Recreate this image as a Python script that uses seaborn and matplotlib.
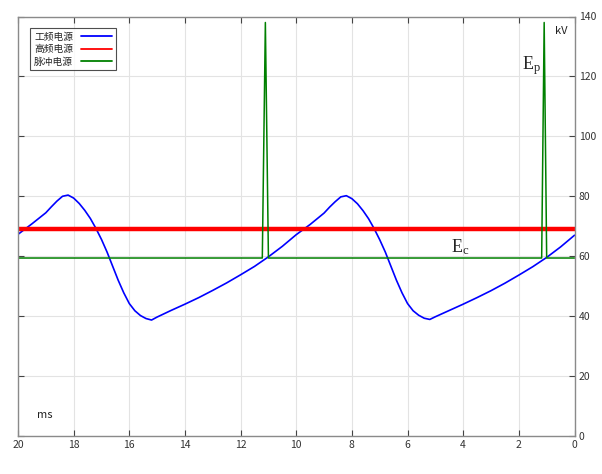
import matplotlib
matplotlib.use("Agg")
import matplotlib.pyplot as plt
import seaborn as sns

# 工频电源 (blue), time in ms / voltage in kV
t_gp = [0.0, 0.5, 1.0, 1.5, 2.0, 2.5, 3.0, 3.5, 4.0, 4.5, 5.0, 5.2, 5.4, 5.6,
        5.8, 6.0, 6.2, 6.4, 6.6, 6.8, 7.0, 7.2, 7.4, 7.6, 7.8, 8.0, 8.2, 8.4,
        8.6, 8.8, 9.0, 9.5, 10.0,
        10.5, 11.0, 11.5, 12.0, 12.5, 13.0, 13.5, 14.0, 14.5, 15.0, 15.2,
        15.4, 15.6, 15.8, 16.0, 16.2, 16.4, 16.6, 16.8, 17.0, 17.2, 17.4,
        17.6, 17.8, 18.0, 18.2, 18.4, 18.6, 18.8, 19.0, 19.5, 20.0]
v_gp = [67.0, 63.1, 59.6, 56.5, 53.7, 51.0, 48.5, 46.2, 44.0, 41.9, 39.8, 38.9,
        39.3, 40.3, 41.8, 44.2, 47.8, 52.0, 56.7, 61.4, 65.5, 69.2, 72.5, 75.2,
        77.5, 79.2, 80.2, 79.8, 78.2, 76.4, 74.4, 70.6, 67.2,
        63.3, 59.8, 56.6, 53.8, 51.1, 48.6, 46.2, 44.0, 41.9, 39.7, 38.7,
        39.2, 40.2, 41.8, 44.2, 47.8, 52.0, 56.7, 61.4, 65.6, 69.3, 72.6,
        75.3, 77.6, 79.4, 80.4, 80.0, 78.4, 76.5, 74.5, 70.8, 67.3]

# 高频电源 (red)
t_gaop = [0.0, 20.0]
v_gaop = [69.0, 69.0]

# 脉冲电源 (green)
t_mc = [0.0, 1.0, 1.09, 1.18, 11.0, 11.11, 11.22, 20.0]
v_mc = [59.4, 59.4, 138.0, 59.4, 59.4, 138.0, 59.4, 59.4]

labels = ["工频电源", "高频电源", "脉冲电源"]
x_ticks = list(range(0, 21, 2))
y_ticks = list(range(0, 141, 20))

sns.set_style("white")
plt.rcParams["font.family"] = ["Noto Sans CJK SC", "DejaVu Sans"]
plt.rcParams["mathtext.fontset"] = "custom"
plt.rcParams["mathtext.rm"] = "Liberation Serif"
plt.rcParams["mathtext.it"] = "Liberation Serif"

fig = plt.figure(figsize=(6.02, 4.74), dpi=100)
ax = fig.add_axes([18 / 602, 38 / 474, 556.5 / 602, 419.5 / 474])

sns.lineplot(x=t_gp, y=v_gp, ax=ax, color="#0000ff", linewidth=1.2, label=labels[0])
sns.lineplot(x=t_gaop, y=v_gaop, ax=ax, color="#ff0000", linewidth=3.2, label=labels[1])
sns.lineplot(x=t_mc, y=v_mc, ax=ax, color="#008000", linewidth=1.1, label=labels[2])

ax.set_xlim(20, 0)
ax.set_ylim(0, 140)
ax.set_xticks(x_ticks)
ax.set_yticks(y_ticks)
ax.grid(True, color="#e3e3e3", linewidth=0.8)
ax.tick_params(direction="in", length=4, width=0.8, top=True, bottom=True,
               left=True, right=True, labelleft=False, labelright=True,
               labelsize=7.5, labelcolor="#333333", color="#444444", pad=3)
for s in ax.spines.values():
    s.set_color("#8a8a8a")
    s.set_linewidth(1.0)

ax.text(0.25, 135, "kV", fontsize=8, ha="right", va="center", color="#222222")
ax.text(19.3, 7, "ms", fontsize=8, ha="left", va="center", color="#222222")
ax.text(1.55, 123.5, r"$\mathrm{E_p}$", fontsize=13, ha="center", va="center")
ax.text(4.1, 63, r"$\mathrm{E_c}$", fontsize=13, ha="center", va="center")

leg = ax.legend(loc="upper left", bbox_to_anchor=(0.022, 0.973), borderaxespad=0,
                fontsize=7, frameon=True, fancybox=False, handlelength=3.2,
                markerfirst=False, labelspacing=0.25, borderpad=0.4)
leg.get_frame().set_edgecolor("#222222")
leg.get_frame().set_linewidth(0.8)
for line in leg.get_lines():
    line.set_linewidth(1.3)

ax.set_xlabel("")
ax.set_ylabel("")
fig.savefig("out.png", dpi=100)
